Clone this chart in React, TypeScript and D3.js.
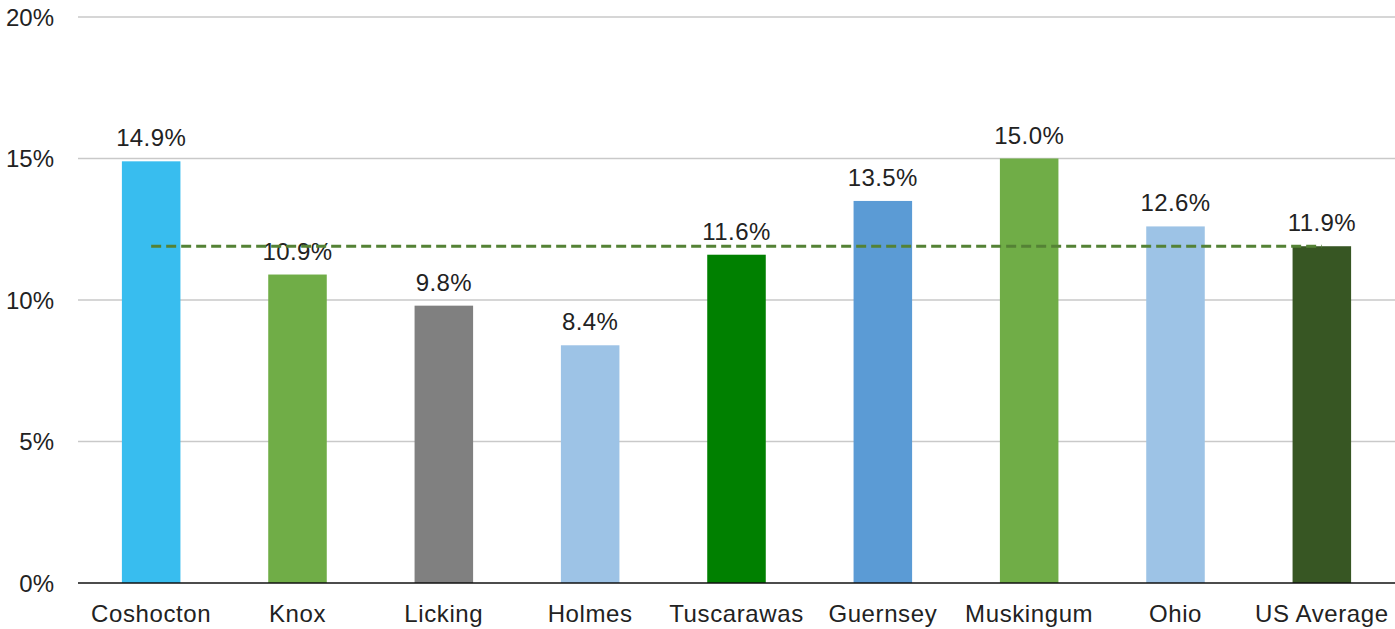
import React from "react";
import * as d3 from "d3";

const categories = ["Coshocton", "Knox", "Licking", "Holmes", "Tuscarawas", "Guernsey", "Muskingum", "Ohio", "US Average"];
const values = [14.9, 10.9, 9.8, 8.4, 11.6, 13.5, 15.0, 12.6, 11.9];
const colors = ["#38BDEF", "#70AD47", "#808080", "#9DC3E6", "#008000", "#5B9BD5", "#70AD47", "#9DC3E6", "#375623"];
const usAverage = 11.9;
const yTicks = [0, 5, 10, 15, 20];

const W = 1395;
const H = 629;
const M = { left: 78, right: 0, top: 17, bottom: 46 };

export default function App() {
  const x = d3.scaleBand<string>().domain(categories).range([M.left, W - M.right]).paddingInner(0.6).paddingOuter(0.3);
  const y = d3.scaleLinear().domain([0, 20]).range([H - M.bottom, M.top]);
  const bw = x.bandwidth();
  const font = "'Liberation Sans', Arial, sans-serif";
  const lineData: [number, number][] = categories.map((c) => [x(c)! + bw / 2, y(usAverage)]);
  const line = d3.line();
  return (
    <svg width={W} height={H} style={{ position: "absolute", left: 0, top: 0, background: "#fff" }} fontFamily={font}>
      {yTicks.map((t) => (
        <g key={t}>
          {t > 0 && <line x1={M.left} x2={W - M.right} y1={y(t)} y2={y(t)} stroke="#c9c9c9" strokeWidth={1.5} />}
          <text x={54} y={y(t)} dy="0.36em" textAnchor="end" fontSize={24} fill="#222">{t}%</text>
        </g>
      ))}
      {categories.map((c, i) => (
        <g key={c}>
          <rect x={x(c)} y={y(values[i])} width={bw} height={y(0) - y(values[i])} fill={colors[i]} />
          <text x={x(c)! + bw / 2} y={y(values[i]) - 15} textAnchor="middle" fontSize={24} letterSpacing={0.4} fill="#222">{values[i].toFixed(1)}%</text>
          <text x={x(c)! + bw / 2} y={H - M.bottom + 39} textAnchor="middle" fontSize={24} letterSpacing={0.6} fill="#222">{c}</text>
        </g>
      ))}
      <line x1={M.left} x2={W - M.right} y1={y(0)} y2={y(0)} stroke="#111" strokeWidth={1.5} />
      <path d={line(lineData) || ""} fill="none" stroke="#548235" strokeWidth={3} strokeDasharray="10 5" />
    </svg>
  );
}
